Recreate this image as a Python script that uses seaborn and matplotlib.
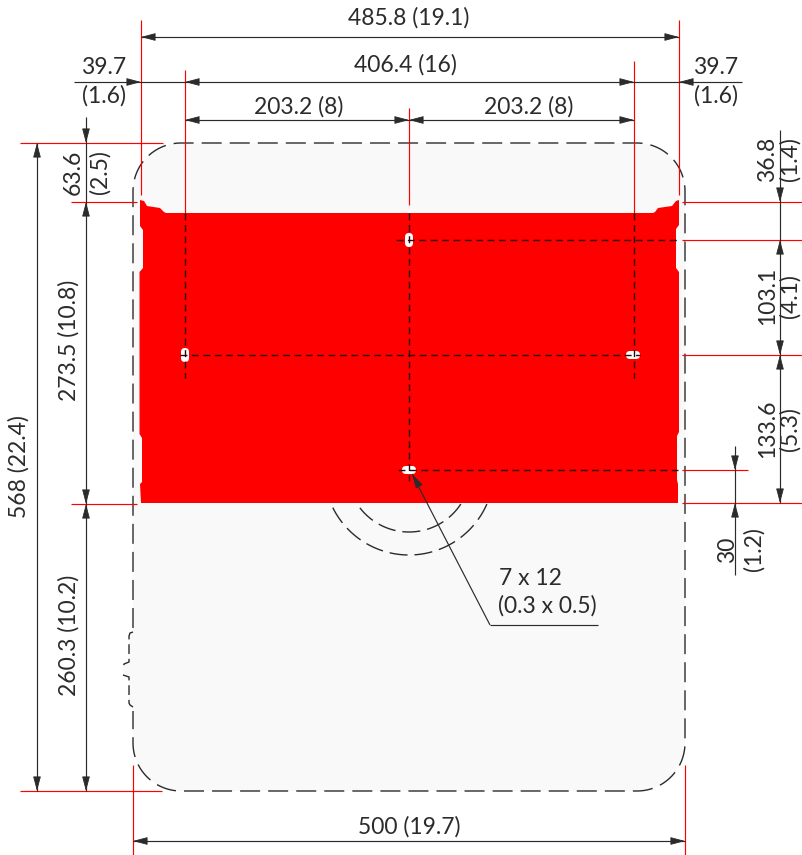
import numpy as np
import pandas as pd
import seaborn as sns
import matplotlib.pyplot as plt
from matplotlib.patches import FancyBboxPatch, Polygon

sns.set_theme(style='white')
plt.rcParams['font.family'] = ['Lato', 'DejaVu Sans']
plt.rcParams['lines.scale_dashes'] = False
plt.rcParams['lines.solid_capstyle'] = 'butt'
plt.rcParams['lines.dash_capstyle'] = 'butt'

INK = '#2b2b2b'
RED = '#ff0000'
FILL = '#f9f9f9'

# everything in pixels (y runs downwards)
# red extension lines: x0, y0, x1, y1
red_lines = [
    (141, 20, 141, 195), (679, 20, 679, 195), (185, 70, 185, 213),
    (634, 61, 634, 213), (409, 108, 409, 205),
    (20, 143, 163, 143), (71, 202, 137, 202), (71, 504, 137, 504),
    (20, 791, 162, 791), (133, 765, 133, 855), (685, 765, 685, 855),
    (682, 202, 803, 202), (682, 240, 803, 240), (682, 355, 803, 355),
    (682, 470, 748, 470), (682, 503, 803, 503),
]
# dimension lines
dim_lines = [
    (141, 37, 679, 37), (74, 82, 742, 82), (185, 120, 634, 120),
    (133, 841, 685, 841), (37, 143, 37, 791), (86, 117, 86, 791),
    (780, 130, 780, 503), (735, 446, 735, 575),
    (490, 625, 412, 474), (490, 625, 598, 625),
]
# arrow heads: tail x, tail y, tip x, tip y
arrows = [
    (153, 37, 141, 37), (667, 37, 679, 37),
    (129, 82, 141, 82), (197, 82, 185, 82), (622, 82, 634, 82), (691, 82, 679, 82),
    (197, 120, 185, 120), (397, 120, 409, 120), (421, 120, 409, 120), (622, 120, 634, 120),
    (145, 841, 133, 841), (673, 841, 685, 841),
    (37, 155, 37, 143), (37, 779, 37, 791),
    (86, 131, 86, 143), (86, 214, 86, 202), (86, 492, 86, 504),
    (86, 516, 86, 504), (86, 779, 86, 791),
    (780, 190, 780, 202), (780, 252, 780, 240), (780, 343, 780, 355),
    (780, 367, 780, 355), (780, 491, 780, 503),
    (735, 458, 735, 470), (735, 515, 735, 503),
    (419, 486, 412, 474),
]
# thin dashed centre lines over the plate
centre_lines = [
    (185, 213, 185, 378), (180, 355, 640, 355), (409, 213, 409, 481),
    (634, 213, 634, 378), (396, 240, 678, 240), (398, 470, 678, 470),
]

# plate outline, clockwise from the top left ear
plate_x = [140, 144, 147, 160, 164, 166, 653, 655, 658, 672, 676, 679,
           679, 676, 676, 679, 679, 677, 677, 678, 678, 141, 140, 142, 142, 139.5, 139.5, 143, 143, 140]
plate_y = [200, 201, 206, 208, 212, 213, 213, 212, 208, 206, 201, 200,
           225, 229, 268, 272, 432, 436, 480, 484, 503, 503, 484, 482, 438, 434, 272, 268, 230, 226]

# holes: centre x, centre y, width, height
holes = [(185, 355, 8, 14), (409, 240, 8, 14), (633, 355, 14, 8), (409, 470, 14, 8)]

# side notch in the housing outline (left edge, top to bottom)
notch_x = [133, 130, 129, 129, 124, 123]
notch_y = [632, 633, 636, 662, 664, 668]
notch2_x = [123, 129, 129, 130, 133]
notch2_y = [675, 677, 703, 705, 707]

# cable entry arcs below the plate
arc_centre = (409, 470)
arc_radii = [62, 85]

# text: label, x, y, rotation
labels_center = [
    ('485.8 (19.1)', 409, 18, 0), ('406.4 (16)', 405, 65, 0),
    ('203.2 (8)', 299, 107, 0), ('203.2 (8)', 529, 107, 0),
    ('39.7', 104, 68, 0), ('(1.6)', 104, 96, 0),
    ('39.7', 716, 68, 0), ('(1.6)', 716, 96, 0),
    ('500 (19.7)', 409, 827, 0),
    ('568 (22.4)', 19, 467, 90), ('273.5 (10.8)', 69, 340, 90),
    ('260.3 (10.2)', 69, 635, 90),
    ('63.6', 73, 172, 90), ('(2.5)', 100, 172, 90),
    ('36.8', 768, 159, 90), ('(1.4)', 790, 159, 90),
    ('103.1', 768, 296, 90), ('(4.1)', 790, 296, 90),
    ('133.6', 768, 429, 90), ('(5.3)', 790, 429, 90),
    ('30', 728, 550, 90), ('(1.2)', 754, 549, 90),
]
labels_left = [('7 x 12', 499, 578), ('(0.3 x 0.5)', 498, 606)]


def segments(rows):
    # long table with one id per segment, so lineplot keeps them apart
    recs = []
    for i, (x0, y0, x1, y1) in enumerate(rows):
        recs.append((i, x0, y0))
        recs.append((i, x1, y1))
    return pd.DataFrame(recs, columns=['seg', 'x', 'y'])


def draw_path(x, y, ax, **kws):
    df = pd.DataFrame({'seg': 0, 'x': x, 'y': y})
    sns.lineplot(data=df, x='x', y='y', units='seg', estimator=None, sort=False,
                 ax=ax, legend=False, **kws)


fig = plt.figure(figsize=(8.03, 8.55), dpi=100)
ax = fig.add_axes([0, 0, 1, 1])

# housing outline: up from above the notch, round the corners, back to below it
R = 48
t = np.linspace(0, np.pi / 2, 30)
out_x = np.concatenate([
    [133], 133 + R - R * np.cos(t), 685 - R + R * np.sin(t),
    685 - R + R * np.cos(t), 133 + R - R * np.sin(t), [133]])
out_y = np.concatenate([
    [628], 143 + R - R * np.sin(t), 143 + R - R * np.cos(t),
    791 - R + R * np.sin(t), 791 - R + R * np.cos(t), [711]])

# housing fill and red plate
fill_x = np.concatenate([out_x, notch2_x[::-1], notch_x[::-1]])
fill_y = np.concatenate([out_y, notch2_y[::-1], notch_y[::-1]])
ax.add_patch(Polygon(np.column_stack([fill_x, fill_y]), closed=True, fc=FILL, ec='none', zorder=1))
ax.add_patch(Polygon(np.column_stack([plate_x, plate_y]), closed=True, fc=RED, ec='none', zorder=3))
for cx, cy, w, h in holes:
    r = min(w, h) / 2
    ax.add_patch(FancyBboxPatch((cx - w / 2 + r, cy - h / 2 + r), w - 2 * r, h - 2 * r,
                                boxstyle=f'round,pad={r},rounding_size={r}',
                                fc='white', ec='none', zorder=4))

draw_path(out_x, out_y, ax, color=INK, linewidth=1.0, linestyle=(0, (14.4, 5.8)), zorder=2)
draw_path(notch_x, notch_y, ax, color=INK, linewidth=1.0, linestyle=(0, (7, 3.5)), zorder=2)
draw_path(notch2_x, notch2_y, ax, color=INK, linewidth=1.0, linestyle=(0, (7, 3.5)), zorder=2)

# cable entry arcs
for r in arc_radii:
    a0 = np.arcsin((504 - arc_centre[1]) / r)
    a = np.linspace(a0, np.pi - a0, 60)
    draw_path(arc_centre[0] + r * np.cos(a), arc_centre[1] + r * np.sin(a), ax,
              color=INK, linewidth=1.0, linestyle=(0, (13, 5)), zorder=2)

for df, col, lw, ls, z in [
    (segments(red_lines), RED, 0.85, '-', 5),
    (segments(dim_lines), INK, 0.85, '-', 6),
    (segments(centre_lines), '#2a0808', 1.0, (0, (5, 3.2)), 5),
]:
    sns.lineplot(data=df, x='x', y='y', units='seg', estimator=None, sort=False,
                 color=col, linewidth=lw, linestyle=ls, zorder=z, ax=ax, legend=False)

for x0, y0, x1, y1 in arrows:
    ax.annotate('', xy=(x1, y1), xytext=(x0, y0), zorder=7,
                arrowprops=dict(arrowstyle='-|>,head_length=0.75,head_width=0.2', color=INK,
                                lw=0.6, shrinkA=0, shrinkB=0, mutation_scale=12))

for s, x, y, rot in labels_center:
    ax.text(x, y, s, ha='center', va='center', rotation=rot, fontsize=16.5,
            color=INK, zorder=8)
for s, x, y in labels_left:
    ax.text(x, y, s, ha='left', va='center', fontsize=16.5, color=INK, zorder=8)

ax.set_xlim(0, 803)
ax.set_ylim(855, 0)
ax.axis('off')
fig.savefig('out.png', dpi=100)
